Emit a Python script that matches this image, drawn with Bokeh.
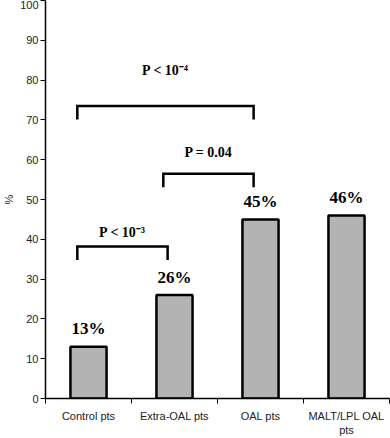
from bokeh.plotting import figure
from bokeh.models import FixedTicker, Range1d, ColumnDataSource
from bokeh.core.properties import value
from bokeh.embed import file_html
from bokeh.resources import INLINE

# ---- data ----
categories = ["Control pts", "Extra-OAL pts", "OAL pts", "MALT/LPL OAL\npts"]
percent = [13, 26, 45, 46]
percent_labels = ["13%", "26%", "45%", "46%"]
y_ticks = list(range(0, 101, 10))

# significance brackets: (from category index, to category index, bracket height)
bracket_from = [0, 1, 0]
bracket_to = [2, 2, 1]
bracket_top = [73.5, 56.5, 38.2]
p_texts = ["P < 10\u207b\u2074", "P = 0.04", "P < 10\u207b\u00b3"]
p_text_y = [82.3, 61.8, 41.8]

# ---- figure ----
centers = [i + 0.5 for i in range(len(categories))]

p = figure(width=390, height=438, x_range=Range1d(0, 4), y_range=Range1d(0, 100),
           output_backend="svg", toolbar_location=None,
           min_border_left=20, min_border_right=1, min_border_top=0, min_border_bottom=0)
p.outline_line_color = None
p.xgrid.grid_line_color = None
p.ygrid.grid_line_color = None
p.background_fill_color = "white"
p.border_fill_color = "white"

src = ColumnDataSource(dict(x=centers, top=percent, lab=percent_labels,
                            ly=[v + 4.5 for v in percent]))
p.vbar(x="x", top="top", bottom=0, width=0.42, source=src,
       fill_color="#b3b3b3", line_color="black", line_width=2.5)
p.text(x="x", y="ly", text="lab", source=src,
       text_font=value("Liberation Serif"), text_font_style="bold",
       text_font_size="17px", text_align="center", text_baseline="middle",
       text_color="black")

# brackets
xs, ys, tx = [], [], []
stem = 3.4
for a, b, h in zip(bracket_from, bracket_to, bracket_top):
    x0 = centers[a] - 0.13
    x1 = centers[b] - 0.08
    xs.append([x0, x0, x1, x1])
    ys.append([h - stem, h, h, h - stem])
    tx.append((x0 + x1) / 2)
p.multi_line(xs=xs, ys=ys, line_color="black", line_width=2.5, line_join="miter")
p.text(x=tx, y=p_text_y, text=p_texts,
       text_font=value("Liberation Serif"), text_font_style="bold",
       text_font_size="14px", text_align="center", text_baseline="middle",
       text_color="black")

# axes
ya = p.yaxis[0]
ya.ticker = FixedTicker(ticks=y_ticks)
ya.minor_tick_line_color = None
ya.major_tick_in = 0
ya.major_tick_out = 5
ya.major_tick_line_color = "black"
ya.axis_line_color = "black"
ya.axis_line_width = 1.5
ya.major_label_standoff = 2
ya.major_label_text_font = "Liberation Sans"
ya.major_label_text_font_size = "11px"
ya.major_label_text_color = "#222222"
ya.axis_label = "%"
ya.axis_label_standoff = 2
ya.axis_label_text_font = "Liberation Sans"
ya.axis_label_text_font_size = "11px"
ya.axis_label_text_font_style = "normal"
ya.axis_label_text_color = "#222222"

xa = p.xaxis[0]
xa.ticker = FixedTicker(ticks=centers, minor_ticks=list(range(len(categories) + 1)))
xa.major_label_overrides = {c: lab for c, lab in zip(centers, categories)}
xa.major_tick_line_color = None
xa.major_tick_in = 0
xa.major_tick_out = 5
xa.minor_tick_in = 0
xa.minor_tick_out = 5
xa.minor_tick_line_color = "black"
xa.axis_line_color = "black"
xa.axis_line_width = 1.5
xa.major_label_standoff = 6
xa.major_label_text_font = "Liberation Sans"
xa.major_label_text_font_size = "11px"
xa.major_label_text_color = "#222222"

open("out.html", "w").write(file_html(p, INLINE))
